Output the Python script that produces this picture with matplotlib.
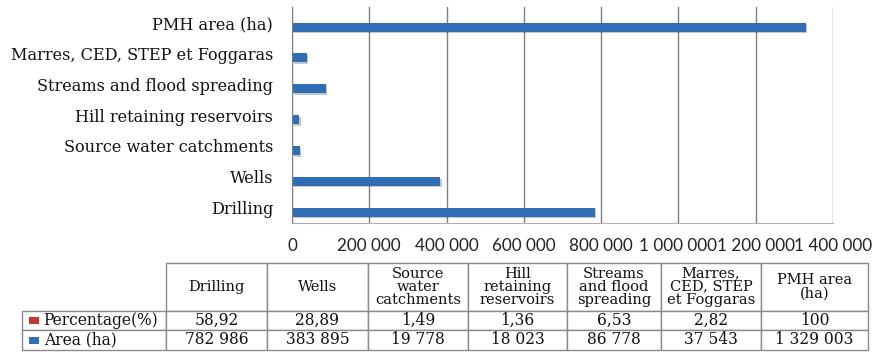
import matplotlib

matplotlib.use("Agg")

import matplotlib.patheffects as pe  # noqa: E402
import matplotlib.pyplot as plt  # noqa: E402
import numpy as np  # noqa: E402
from matplotlib.patches import Rectangle  # noqa: E402
from matplotlib.table import Table  # noqa: E402
from matplotlib.ticker import FuncFormatter, MultipleLocator  # noqa: E402

categories = [
    "Drilling",
    "Wells",
    "Source water catchments",
    "Hill retaining reservoirs",
    "Streams and flood spreading",
    "Marres, CED, STEP et Foggaras",
    "PMH area (ha)",
]
table_headers = [
    "Drilling",
    "Wells",
    "Source\nwater\ncatchments",
    "Hill\nretaining\nreservoirs",
    "Streams\nand flood\nspreading",
    "Marres,\nCED, STEP\net Foggaras",
    "PMH area\n(ha)",
]
percentage = [58.92, 28.89, 1.49, 1.36, 6.53, 2.82, 100]
area_ha = [782986, 383895, 19778, 18023, 86778, 37543, 1329003]
series_names = ["Percentage(%)", "Area (ha)"]
series_colors = ["#C0392B", "#2F6DB5"]

SERIF = "DejaVu Serif"
SANS = "Lato"
W, H = 874, 354


def fmt_thousands(v):
    return f"{int(round(v)):,}".replace(",", " ")


def fmt_decimal(v):
    return f"{v:g}".replace(".", ",")


fig = plt.figure(figsize=(W / 100, H / 100), dpi=100)

# bar chart
ax = fig.add_axes([292 / W, 1 - 223 / H, (833 - 292) / W, (223 - 7) / H])
y = np.arange(len(categories))
bar_h = 0.29
shadow = [pe.SimplePatchShadow(offset=(1.2, -1.2), alpha=0.25), pe.Normal()]
ax.barh(y + 0.15, percentage, height=bar_h, color=series_colors[0], linewidth=0)
ax.barh(y - 0.15, area_ha, height=bar_h, color=series_colors[1], linewidth=0,
        path_effects=shadow)

ax.set_xlim(0, 1_400_000)
ax.set_ylim(-0.5, len(categories) - 0.5)
ax.xaxis.set_major_locator(MultipleLocator(200_000))
ax.xaxis.set_major_formatter(FuncFormatter(lambda v, _: fmt_thousands(v)))
ax.set_yticks(y)
ax.set_yticklabels(categories, fontfamily=SERIF, fontsize=11.6, color="#111111")
ax.tick_params(axis="y", length=0, pad=13.5)
ax.tick_params(axis="x", length=0, pad=11, labelsize=12.3, labelcolor="#222222")
for lbl in ax.get_xticklabels():
    lbl.set_fontfamily(SANS)
ax.grid(True, axis="x", color="#808080", linewidth=1.0)
ax.set_axisbelow(True)
for side in ("top", "right"):
    ax.spines[side].set_visible(False)
ax.spines["left"].set_color("#808080")
ax.spines["bottom"].set_color("#b0b0b0")

# data table under the chart
col_edges = [22, 166, 267, 368, 468, 567, 661, 761, 868]
row_heights = [47.5, 19.5, 20.0]
tax = fig.add_axes([22 / W, 1 - 350 / H, (868 - 22) / W, (350 - 263) / H])
tax.set_axis_off()
table = Table(tax, bbox=[0, 0, 1, 1])
widths = np.diff(col_edges)
edge_col = "#8a8a8a"

header_cells = []
for j, head in enumerate(table_headers, start=1):
    cell = table.add_cell(0, j, width=widths[j], height=row_heights[0],
                          text=head, loc="center")
    header_cells.append(cell)

rows = [
    [fmt_decimal(v) for v in percentage],
    [fmt_thousands(v) for v in area_ha],
]
for i, (name, values) in enumerate(zip(series_names, rows), start=1):
    cell = table.add_cell(i, 0, width=widths[0], height=row_heights[i],
                          text=name, loc="left")
    cell.PAD = 0.15
    for j, txt in enumerate(values, start=1):
        table.add_cell(i, j, width=widths[j], height=row_heights[i],
                       text=txt, loc="center")

table.auto_set_font_size(False)
table.set_fontsize(11.2)
for cell in table.get_celld().values():
    cell.set_edgecolor(edge_col)
    cell.set_linewidth(1.0)
    cell.get_text().set_fontfamily(SERIF)
    cell.get_text().set_color("#111111")
for cell in header_cells:
    cell.get_text().set_fontsize(10.5)
    cell.get_text().set_linespacing(0.93)
tax.add_table(table)

# legend keys in the row header cells
for color, (ky0, ky1) in zip(series_colors, [(316.5, 323.5), (336.5, 343.5)]):
    fig.add_artist(Rectangle((29 / W, 1 - ky1 / H), 10 / W, (ky1 - ky0) / H,
                             transform=fig.transFigure, color=color, linewidth=0))

fig.savefig("out.png", dpi=100)
plt.close(fig)
